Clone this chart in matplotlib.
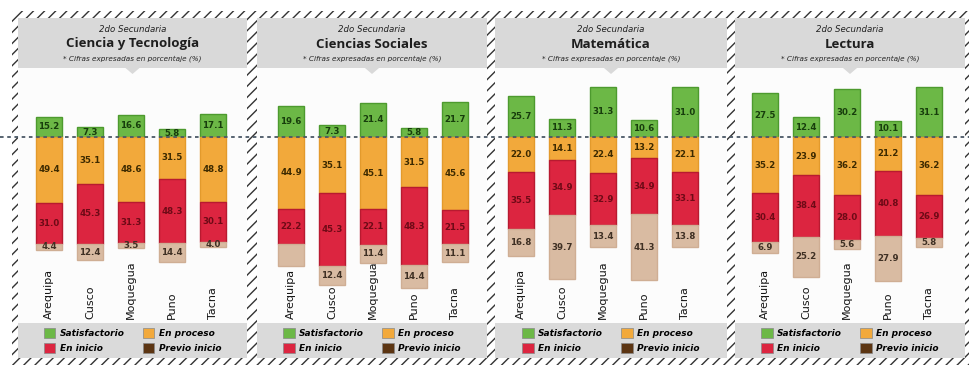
import matplotlib.pyplot as plt
import numpy as np
from matplotlib.patches import Rectangle, Polygon, Patch
from matplotlib.lines import Line2D

regiones = ['Arequipa', 'Cusco', 'Moquegua', 'Puno', 'Tacna']
areas = ['Ciencia y Tecnología', 'Ciencias Sociales', 'Matemática', 'Lectura']

# porcentajes por nivel de logro (una fila por área)
satisfactorio = [[15.2, 7.3, 16.6, 5.8, 17.1],
                 [19.6, 7.3, 21.4, 5.8, 21.7],
                 [25.7, 11.3, 31.3, 10.6, 31.0],
                 [27.5, 12.4, 30.2, 10.1, 31.1]]
en_proceso = [[49.4, 35.1, 48.6, 31.5, 48.8],
              [44.9, 35.1, 45.1, 31.5, 45.6],
              [22.0, 14.1, 22.4, 13.2, 22.1],
              [35.2, 23.9, 36.2, 21.2, 36.2]]
en_inicio = [[31.0, 45.3, 31.3, 48.3, 30.1],
             [22.2, 45.3, 22.1, 48.3, 21.5],
             [35.5, 34.9, 32.9, 34.9, 33.1],
             [30.4, 38.4, 28.0, 40.8, 26.9]]
previo_inicio = [[4.4, 12.4, 3.5, 14.4, 4.0],
                 [13.3, 12.4, 11.4, 14.4, 11.1],
                 [16.8, 39.7, 13.4, 41.3, 13.8],
                 [6.9, 25.2, 5.6, 27.9, 5.8]]
sin_etiqueta = {(1, 0, 3)}  # (area, region, nivel) sin cifra impresa

niveles = ['Satisfactorio', 'En proceso', 'En inicio', 'Previo inicio']
col_barra = ['#6cb846', '#f2a93b', '#dc2540', '#d9bba2']
col_borde = ['#4d9a2e', '#e39a2c', '#b81a30', '#cfae94']
col_texto = ['#173d0c', '#3d2a00', '#6e0a16', '#3f3024']
col_leyenda = ['#6cb846', '#f2a93b', '#dc2540', '#5c3512']

W, H = 970, 365
fig = plt.figure(figsize=(W / 100, H / 100), dpi=100)
plt.rcParams['hatch.linewidth'] = 1.0

# fondo en coordenadas de pixel
bg = fig.add_axes([0, 0, 1, 1], zorder=-1)
bg.set_xlim(0, W)
bg.set_ylim(H, 0)
bg.axis('off')

izq = [18, 257, 495, 735]
der = [247, 487, 727, 965]
desfase = [31, 34, 26, 30]
escala = [1.33, 1.6, 1.6, 1.6]
y_base, y_top, y_bot = 137, 68, 323
paso = 41.0

def banda(x0, y0, x1, y1):
    bg.add_patch(Rectangle((x0, y0), x1 - x0, y1 - y0, facecolor='white',
                           edgecolor='#333333', hatch='///', linewidth=0))

banda(12, 11, W, 18)
banda(12, 358, W, H)
for x0, x1 in [(12, 18), (247, 257), (487, 495), (727, 735), (965, W)]:
    banda(x0, 11, x1, H)

for k in range(4):
    L, R = izq[k], der[k]
    cx = (L + R) / 2
    bg.add_patch(Rectangle((L, 18), R - L, y_top - 18, facecolor='#d9d9d9', lw=0))
    bg.add_patch(Rectangle((L, y_top), R - L, y_bot - y_top, facecolor='#fcfcfc', lw=0))
    bg.add_patch(Polygon([(cx - 7, y_top), (cx + 7, y_top), (cx, y_top + 6)],
                         facecolor='#d9d9d9', lw=0))
    bg.add_patch(Rectangle((L, y_bot), R - L, 358 - y_bot, facecolor='#dadada', lw=0))

    fx = cx / W
    fig.text(fx, 1 - 29 / H, '2do Secundaria', ha='center', va='center',
             fontsize=6.2, style='italic', color='#222222')
    fig.text(fx, 1 - 44 / H, areas[k], ha='center', va='center',
             fontsize=9.5, fontweight='bold', family='Open Sans', color='#1e1e1e')
    fig.text(fx, 1 - 59 / H, '* Cifras expresadas en porcentaje (%)', ha='center',
             va='center', fontsize=5.2, style='italic', color='#222222')

    ax = fig.add_axes([L / W, 1 - y_bot / H, (R - L) / W, (y_bot - y_top) / H])
    ax.patch.set_alpha(0)
    ax.axis('off')
    s = escala[k]
    ax.set_xlim(-desfase[k] / paso, (R - L - desfase[k]) / paso)
    ax.set_ylim(-(y_bot - y_base) / s, (y_base - y_top) / s)

    x = np.arange(len(regiones))
    sat = np.array(satisfactorio[k])
    pro = np.array(en_proceso[k])
    ini = np.array(en_inicio[k])
    pre = np.array(previo_inicio[k])
    segmentos = [(np.zeros(5), sat),
                 (-pro, pro),
                 (-(pro + ini), ini),
                 (-(pro + ini + pre), pre)]
    for n, (base, alto) in enumerate(segmentos):
        ax.bar(x, alto, bottom=base, width=0.61, color=col_barra[n],
               edgecolor=col_borde[n], linewidth=1.0)
        for i in range(5):
            if (k, i, n) in sin_etiqueta:
                continue
            ax.text(x[i], base[i] + alto[i] / 2, f'{alto[i]:.1f}', ha='center',
                    va='center', fontsize=6.2, fontweight='bold',
                    color=col_texto[n])
    for i, reg in enumerate(regiones):
        ax.text(x[i], 0.015, reg, transform=ax.get_xaxis_transform(),
                rotation=90, ha='center', va='bottom', fontsize=8,
                color='#151515')

    manejadores = [Patch(facecolor=col_leyenda[j], edgecolor='#888888', lw=0.5)
                   for j in (0, 2, 1, 3)]
    etiquetas = [niveles[j] for j in (0, 2, 1, 3)]
    ax.legend(manejadores, etiquetas, loc='upper center', bbox_to_anchor=(0.5, 0.0),
              ncol=2, frameon=False, handlelength=1.3, handleheight=1.3,
              labelspacing=0.55, columnspacing=2.0, handletextpad=0.5,
              borderaxespad=0.15,
              prop={'style': 'italic', 'weight': 'bold', 'size': 6.5})

# linea punteada de referencia en cero
fig.add_artist(Line2D([0, 1], [1 - y_base / H] * 2, transform=fig.transFigure,
                      color='#4a5866', lw=1.3, linestyle=(0, (2, 2))))

fig.savefig('out.png', dpi=100)
